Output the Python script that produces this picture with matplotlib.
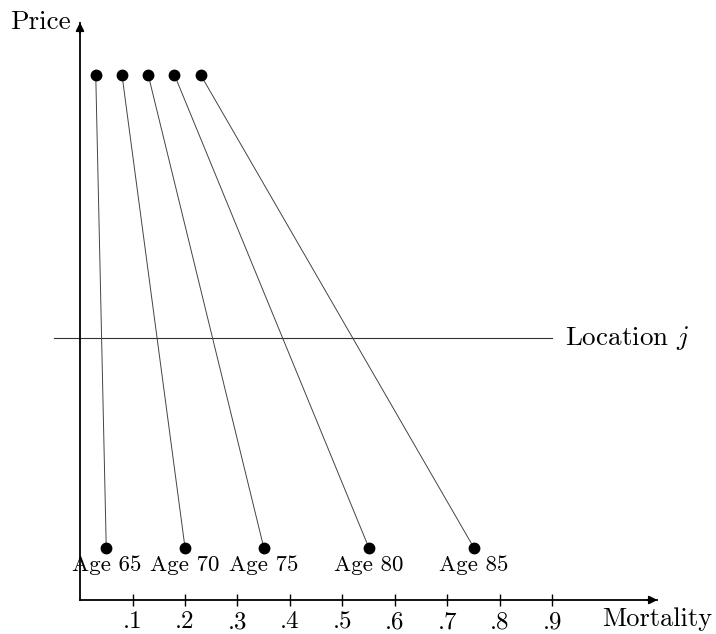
import matplotlib.pyplot as plt

plt.rcParams['font.family'] = ['cmr10', 'DejaVu Serif']
plt.rcParams['mathtext.fontset'] = 'cm'
plt.rcParams['axes.formatter.use_mathtext'] = True

# mortality at the top (price level 1.0) and at the bottom (0.1)
top_x = [0.03, 0.08, 0.13, 0.18, 0.23]
bottom_x = [0.05, 0.20, 0.35, 0.55, 0.75]
top_y = 1.0
bottom_y = 0.1
ages = ['Age 65', 'Age 70', 'Age 75', 'Age 80', 'Age 85']
location_y = 0.5
location_span = [-0.05, 0.9]
ticks = [0.1, 0.2, 0.3, 0.4, 0.5, 0.6, 0.7, 0.8, 0.9]
tick_labels = ['.1', '.2', '.3', '.4', '.5', '.6', '.7', '.8', '.9']
axis_end = 1.1

fig = plt.figure(figsize=(7.16, 6.34), dpi=100)
ax = fig.add_axes([0, 0, 1, 1])
ax.set_xlim(-80 / 525, 636 / 525)
ax.set_ylim(-34 / 525, 600 / 525)

for s in ['top', 'right']:
    ax.spines[s].set_visible(False)
for s in ['left', 'bottom']:
    ax.spines[s].set_position(('data', 0))
    ax.spines[s].set_linewidth(1.3)
ax.spines['left'].set_bounds(0, axis_end)
ax.spines['bottom'].set_bounds(0, axis_end)

ax.set_xticks(ticks)
ax.set_xticklabels(tick_labels, fontsize=18)
ax.tick_params(axis='x', direction='inout', length=8, width=1.0, pad=4)
ax.set_yticks([])

# arrow heads
ax.annotate('', xy=(axis_end, 0), xytext=(axis_end - 0.02, 0),
            arrowprops=dict(arrowstyle='-|>', color='black', lw=1.3,
                            mutation_scale=12, shrinkA=0, shrinkB=0))
ax.annotate('', xy=(0, axis_end), xytext=(0, axis_end - 0.02),
            arrowprops=dict(arrowstyle='-|>', color='black', lw=1.3,
                            mutation_scale=12, shrinkA=0, shrinkB=0))

ax.annotate('Price', xy=(0, axis_end), xytext=(-7, 0), textcoords='offset points',
            ha='right', va='center', fontsize=19.5)
ax.annotate('Mortality', xy=(axis_end, 0), xytext=(0, -14), textcoords='offset points',
            ha='center', va='center', fontsize=19)

# location line
ax.plot(location_span, [location_y, location_y], color='#333333', lw=0.8)
ax.annotate('Location $j$', xy=(location_span[1], location_y), xytext=(9, 0),
            textcoords='offset points', ha='left', va='center', fontsize=19.5)

for tx, bx, lab in zip(top_x, bottom_x, ages):
    ax.plot([tx, bx], [top_y, bottom_y], color='#444444', lw=0.7)
    ax.plot([tx, bx], [top_y, bottom_y], 'o', color='black', markersize=7.5)
    ax.annotate(lab, xy=(bx, bottom_y), xytext=(0, -13), textcoords='offset points',
                ha='center', va='center', fontsize=16.5)

fig.savefig('out.png', dpi=100)
